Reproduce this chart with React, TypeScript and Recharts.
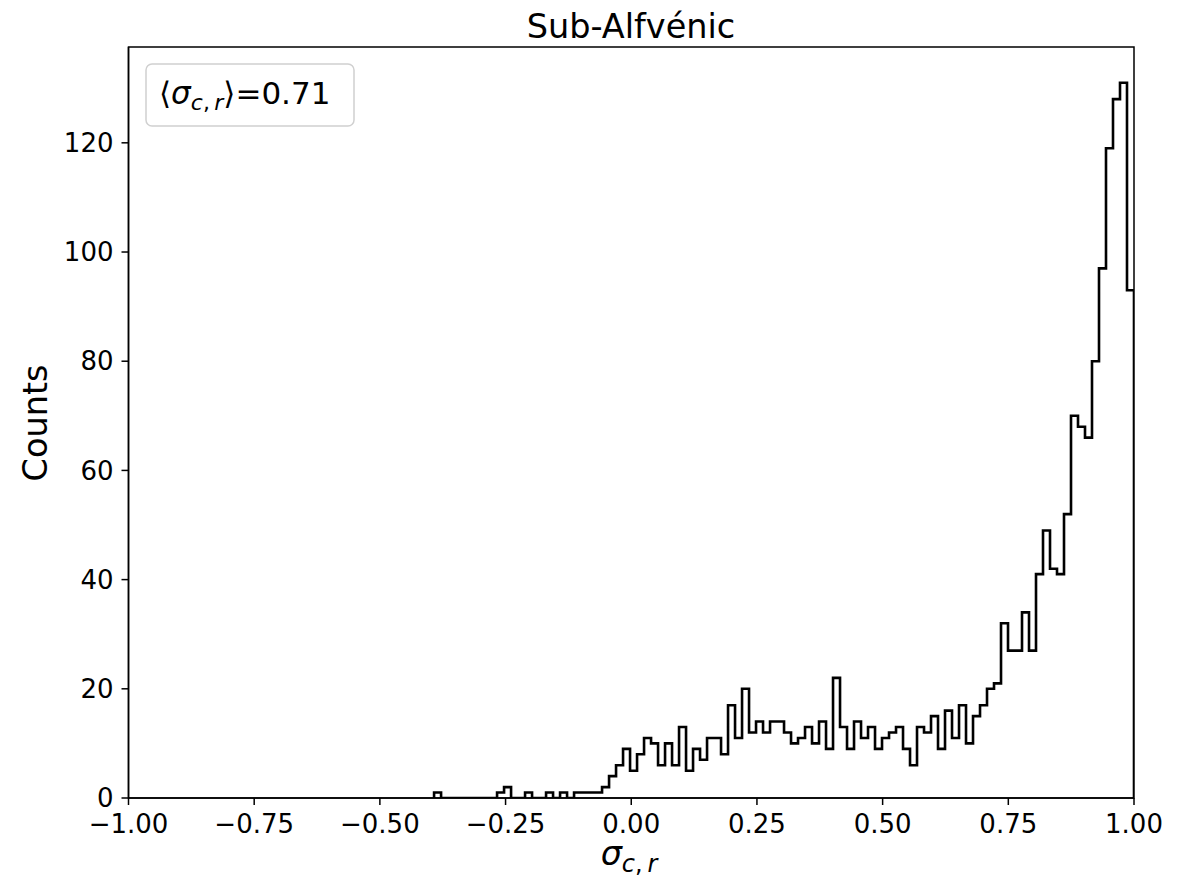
import React from "react";
import { ComposedChart, Line, XAxis, YAxis, ReferenceArea } from "recharts";

// Histogram of sigma_{c,r}: 100 bins spanning [binStart, binEnd]
const binStart = -0.3922;
const binEnd = 1.0;
const counts = [
  1, 0, 0, 0, 0, 0, 0, 0, 0, 1,
  2, 0, 0, 1, 0, 0, 1, 0, 1, 0,
  1, 1, 1, 1, 2, 4, 6, 9, 5, 8,
  11, 10, 6, 10, 6, 13, 5, 9, 7, 11,
  11, 8, 17, 11, 20, 12, 14, 12, 14, 14,
  12, 10, 11, 13, 10, 14, 9, 22, 13, 9,
  14, 11, 13, 9, 11, 12, 13, 9, 6, 13,
  12, 15, 9, 16, 11, 17, 10, 15, 17, 20,
  21, 32, 27, 27, 34, 27, 41, 49, 42, 41,
  52, 70, 68, 66, 80, 97, 119, 128, 131, 93,
];
const xTicks = [-1, -0.75, -0.5, -0.25, 0, 0.25, 0.5, 0.75, 1];
const yTicks = [0, 20, 40, 60, 80, 100, 120];
const yMax = 137.55;
const meanLabel = "0.71";
const title = "Sub-Alfvénic";
const yLabel = "Counts";

const W = 1193;
const H = 882;
const FONT = "DejaVu Sans";

const nBins = counts.length;
const edge = (i: number) => binStart + ((binEnd - binStart) * i) / nBins;
const stepData = [
  { x: edge(0), y: 0 },
  ...counts.map((c, i) => ({ x: edge(i), y: c })),
  { x: edge(nBins), y: 0 },
];

const fmtX = (v: number) => {
  const s = Math.abs(v).toFixed(2);
  return v < 0 ? "\u2212" + s : s;
};

export default function App() {
  return (
    <div style={{ position: "absolute", left: 0, top: 0, width: W, height: H, background: "#fff" }}>
      <ComposedChart
        width={W}
        height={H}
        data={stepData}
        margin={{ top: 47, right: 59, bottom: 0, left: 28.5 }}
      >
        <XAxis
          type="number"
          dataKey="x"
          domain={[-1, 1]}
          ticks={xTicks}
          tickFormatter={fmtX}
          allowDataOverflow
          height={84}
          interval={0}
          tickSize={7}
          tickMargin={10}
          axisLine={{ stroke: "#000", strokeWidth: 1.5 }}
          tickLine={{ stroke: "#000", strokeWidth: 1.5 }}
          tick={{ fill: "#000", fontSize: 26, fontFamily: FONT }}
        />
        <YAxis
          type="number"
          domain={[0, yMax]}
          ticks={yTicks}
          allowDataOverflow
          width={100}
          interval={0}
          tickSize={7}
          tickMargin={8}
          axisLine={{ stroke: "#000", strokeWidth: 1.5 }}
          tickLine={{ stroke: "#000", strokeWidth: 1.5 }}
          tick={{ fill: "#000", fontSize: 26, fontFamily: FONT }}
        />
        <ReferenceArea
          x1={-1}
          x2={1}
          y1={0}
          y2={yMax}
          fill="none"
          fillOpacity={0}
          stroke="#000"
          strokeWidth={1.5}
          ifOverflow="visible"
        />
        <Line
          type="stepAfter"
          dataKey="y"
          stroke="#000"
          strokeWidth={2.6}
          dot={false}
          activeDot={false}
          isAnimationActive={false}
        />
      </ComposedChart>
      <svg
        width={W}
        height={H}
        style={{ position: "absolute", left: 0, top: 0, pointerEvents: "none" }}
        fontFamily={FONT}
      >
        <text x={631} y={38} textAnchor="middle" fontSize={33.5} fill="#000">
          {title}
        </text>
        <rect x={146} y={64} width={208} height={62} rx={6} fill="#fff" fillOpacity={0.8} stroke="#d0d0d0" strokeWidth={1.5} />
        <text x={159} y={104} fontSize={31} fill="#000">
          <tspan>{"\u27e8"}</tspan>
          <tspan fontStyle="italic">σ</tspan>
          <tspan fontSize={22} dy={6} fontStyle="italic">c</tspan>
          <tspan fontSize={22}>,&#8201;</tspan>
          <tspan fontSize={22} fontStyle="italic">r</tspan>
          <tspan dy={-6}>{"\u27e9=" + meanLabel}</tspan>
        </text>
        <text
          x={0}
          y={0}
          transform="translate(47,423) rotate(-90)"
          textAnchor="middle"
          fontSize={33.5}
          fill="#000"
        >
          {yLabel}
        </text>
        <text x={629} y={865} textAnchor="middle" fontSize={33.5} fill="#000">
          <tspan fontStyle="italic">σ</tspan>
          <tspan fontSize={24} dy={7} fontStyle="italic">c</tspan>
          <tspan fontSize={24}>,&#8201;</tspan>
          <tspan fontSize={24} fontStyle="italic">r</tspan>
        </text>
      </svg>
    </div>
  );
}
